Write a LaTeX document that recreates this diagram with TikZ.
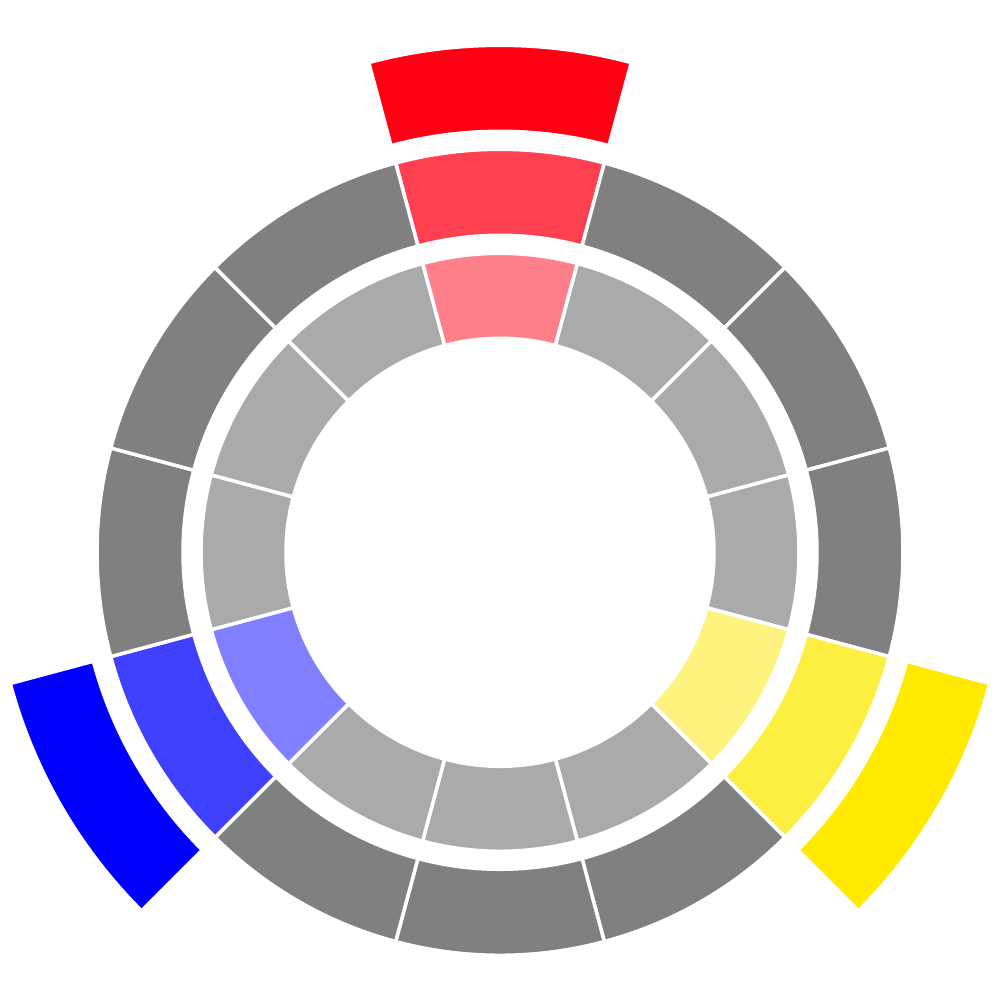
\documentclass[tikz,border=0pt]{standalone}
\definecolor{redO}{RGB}{255,0,20}
\definecolor{redM}{RGB}{255,64,80}
\definecolor{redI}{RGB}{255,128,138}
\definecolor{yelO}{RGB}{255,234,0}
\definecolor{yelM}{RGB}{253,239,66}
\definecolor{yelI}{RGB}{255,243,128}
\definecolor{bluO}{RGB}{0,0,255}
\definecolor{bluM}{RGB}{64,64,255}
\definecolor{bluI}{RGB}{128,128,255}
\definecolor{grayM}{RGB}{128,128,128}
\definecolor{grayI}{RGB}{170,170,170}
\tikzset{seg/.style={draw=white,line width=0.035cm,line join=miter}}
\begin{document}
\begin{tikzpicture}[x=1cm,y=1cm]
\useasboundingbox (0,0) rectangle (10.01,10.01);
\begin{scope}[shift={(5,4.487)}]
\foreach \ang/\cmid/\cinn in {90/redM/redI,60/grayM/grayI,30/grayM/grayI,0/grayM/grayI,-30/yelM/yelI,-60/grayM/grayI,-90/grayM/grayI,-120/grayM/grayI,-150/bluM/bluI,180/grayM/grayI,150/grayM/grayI,120/grayM/grayI}{
  \fill[seg,fill=\cinn] (\ang-15:2.14) arc[start angle=\ang-15,end angle=\ang+15,radius=2.14] -- (\ang+15:2.99) arc[start angle=\ang+15,end angle=\ang-15,radius=2.99] -- cycle;
  \fill[seg,fill=\cmid] (\ang-15:3.17) arc[start angle=\ang-15,end angle=\ang+15,radius=3.17] -- (\ang+15:4.03) arc[start angle=\ang+15,end angle=\ang-15,radius=4.03] -- cycle;}
\foreach \ang/\cout in {90/redO,-30/yelO,-150/bluO}{
  \fill[seg,fill=\cout] (\ang-15:4.21) arc[start angle=\ang-15,end angle=\ang+15,radius=4.21] -- (\ang+15:5.07) arc[start angle=\ang+15,end angle=\ang-15,radius=5.07] -- cycle;}
\end{scope}
\end{tikzpicture}
\end{document}
